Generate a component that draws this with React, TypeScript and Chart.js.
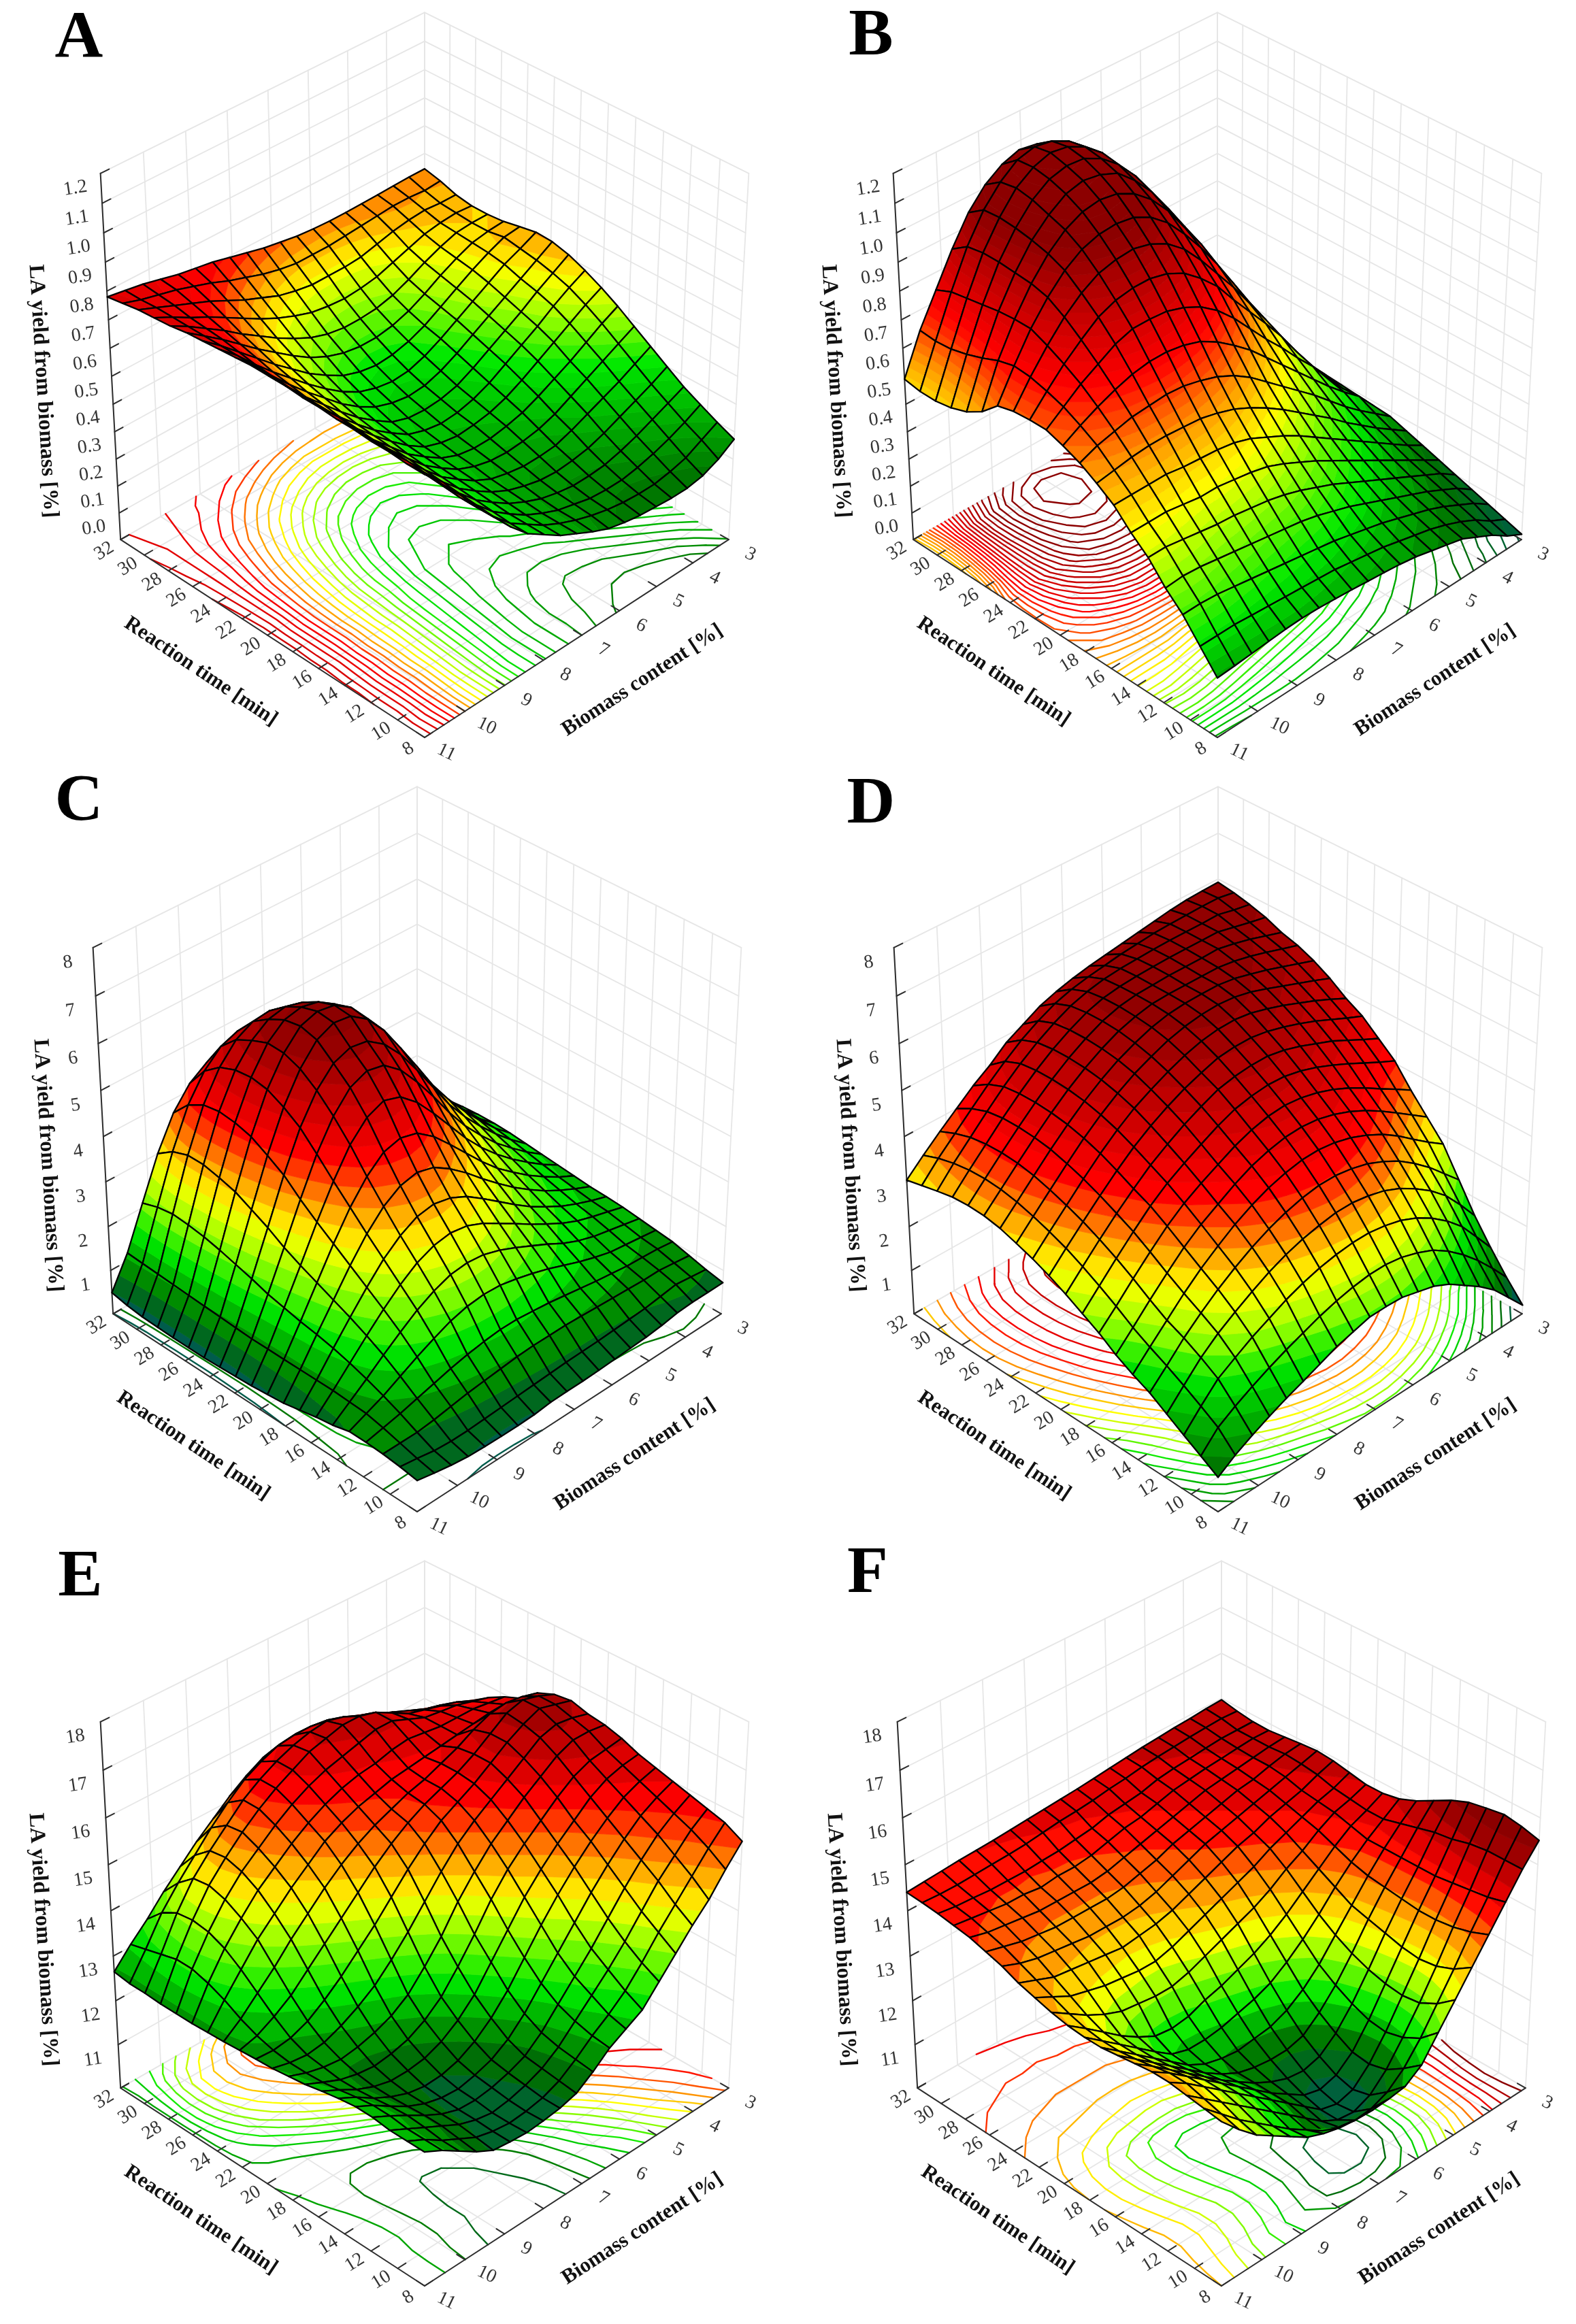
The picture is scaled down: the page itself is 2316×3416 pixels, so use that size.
import { useEffect, useRef } from 'react';
import { Chart, registerables } from 'chart.js';

Chart.register(...registerables);

// tick labels
const timeTicks = [8, 10, 12, 14, 16, 18, 20, 22, 24, 26, 28, 30, 32];
const biomassTicks = [11, 10, 9, 8, 7, 6, 5, 4, 3];
const yieldTicksLow = ['0.0', '0.1', '0.2', '0.3', '0.4', '0.5', '0.6', '0.7', '0.8', '0.9', '1.0', '1.1', '1.2'];
const yieldTicksMid = ['1', '2', '3', '4', '5', '6', '7', '8'];
const yieldTicksHigh = ['11', '12', '13', '14', '15', '16', '17', '18'];

// surface heights: rows run from 8 to 32 min, columns from 11 to 3 % biomass
const surfaceA = [
  [.82, .76, .68, .60, .53, .46, .40, .36, .32, .29, .26, .235, .22, .21, .205, .20, .20, .21, .235, .273],
  [.82, .755, .68, .60, .53, .46, .40, .36, .32, .29, .265, .245, .23, .22, .215, .215, .225, .24, .27, .30],
  [.825, .76, .68, .605, .53, .465, .405, .36, .32, .29, .265, .25, .235, .23, .23, .24, .255, .275, .30, .33],
  [.825, .76, .685, .61, .535, .47, .41, .365, .325, .295, .27, .255, .245, .245, .25, .265, .285, .31, .335, .361],
  [.83, .76, .685, .61, .54, .475, .415, .37, .33, .30, .28, .265, .26, .265, .275, .295, .32, .345, .37, .40],
  [.83, .765, .69, .615, .545, .48, .42, .375, .335, .305, .29, .28, .28, .285, .305, .33, .355, .38, .41, .44],
  [.835, .77, .69, .615, .55, .485, .425, .38, .34, .315, .30, .295, .30, .31, .33, .36, .39, .42, .45, .48],
  [.835, .77, .695, .62, .55, .49, .43, .385, .345, .32, .31, .31, .32, .335, .36, .39, .42, .455, .49, .52],
  [.84, .77, .695, .62, .555, .495, .44, .39, .35, .33, .32, .325, .335, .355, .385, .42, .455, .49, .525, .555],
  [.84, .77, .695, .625, .56, .50, .445, .40, .36, .34, .33, .335, .35, .375, .41, .445, .48, .52, .555, .585],
  [.84, .775, .70, .63, .57, .51, .455, .41, .37, .35, .345, .35, .365, .395, .43, .465, .50, .54, .575, .61],
  [.835, .775, .705, .64, .58, .525, .47, .425, .39, .37, .36, .365, .385, .415, .45, .485, .52, .555, .59, .625],
  [.83, .775, .71, .65, .595, .54, .49, .445, .41, .39, .38, .385, .405, .435, .47, .505, .54, .575, .60, .628],
  [.825, .775, .72, .665, .61, .56, .51, .47, .435, .415, .405, .41, .425, .45, .485, .52, .555, .585, .61, .617],
  [.82, .775, .73, .68, .63, .585, .54, .50, .47, .45, .44, .44, .45, .47, .50, .535, .565, .59, .60, .605],
  [.81, .775, .735, .695, .65, .61, .57, .535, .505, .485, .475, .475, .48, .495, .52, .55, .575, .595, .60, .60],
  [.805, .775, .74, .71, .675, .64, .605, .575, .55, .53, .52, .515, .52, .53, .55, .57, .59, .60, .605, .60],
  [.80, .775, .75, .725, .70, .67, .64, .615, .59, .575, .565, .565, .565, .57, .585, .60, .61, .615, .61, .61],
  [.79, .77, .755, .74, .72, .70, .675, .655, .635, .62, .61, .61, .61, .615, .62, .625, .63, .63, .625, .63],
  [.78, .77, .76, .745, .73, .72, .71, .695, .68, .665, .655, .645, .64, .637, .637, .638, .64, .642, .644, .644],
];

const surfaceB = [
  [.116, .12, .125, .13, .135, .137, .135, .13, .125, .118, .112, .105, .095, .08, .065, .05, .02, -.01, -.05, -.08],
  [.19, .19, .19, .185, .18, .175, .17, .165, .16, .15, .14, .13, .115, .10, .085, .065, .04, .01, -.03, -.06],
  [.264, .265, .26, .25, .24, .23, .22, .21, .20, .19, .175, .16, .145, .125, .105, .085, .06, .03, 0, -.04],
  [.32, .325, .32, .31, .30, .29, .28, .27, .26, .245, .225, .205, .18, .155, .13, .105, .08, .05, .02, -.02],
  [.39, .39, .38, .37, .36, .355, .345, .335, .32, .30, .275, .25, .22, .19, .16, .13, .10, .07, .04, 0],
  [.44, .44, .44, .43, .42, .42, .41, .40, .385, .36, .33, .30, .265, .23, .195, .16, .125, .09, .055, .02],
  [.50, .50, .50, .50, .49, .485, .48, .47, .45, .42, .39, .355, .315, .275, .235, .195, .155, .115, .075, .04],
  [.54, .55, .56, .565, .565, .56, .555, .54, .52, .49, .455, .415, .37, .325, .28, .23, .185, .14, .10, .06],
  [.575, .60, .615, .63, .635, .64, .635, .62, .60, .57, .53, .48, .43, .38, .33, .275, .22, .17, .125, .08],
  [.60, .635, .665, .69, .71, .72, .72, .71, .69, .655, .61, .56, .50, .44, .38, .32, .26, .205, .155, .085],
  [.62, .665, .71, .745, .78, .80, .80, .795, .775, .745, .70, .64, .57, .50, .435, .365, .30, .22, .15, .09],
  [.62, .685, .745, .795, .84, .865, .875, .875, .86, .83, .78, .72, .64, .565, .49, .41, .32, .235, .16, .095],
  [.615, .70, .775, .84, .89, .925, .94, .945, .93, .90, .85, .78, .70, .62, .53, .44, .34, .25, .17, .10],
  [.60, .705, .80, .875, .935, .975, .995, 1.0, .99, .96, .91, .84, .76, .67, .57, .47, .365, .26, .18, .105],
  [.545, .69, .80, .89, .96, 1.01, 1.04, 1.05, 1.04, 1.01, .96, .89, .80, .71, .60, .495, .385, .27, .185, .11],
  [.51, .665, .795, .895, .975, 1.03, 1.07, 1.085, 1.075, 1.05, .995, .925, .835, .74, .62, .51, .40, .285, .195, .12],
  [.49, .645, .785, .90, .985, 1.05, 1.09, 1.105, 1.10, 1.07, 1.02, .95, .855, .76, .63, .52, .41, .295, .20, .13],
  [.48, .63, .775, .90, .99, 1.06, 1.10, 1.12, 1.11, 1.08, 1.03, .955, .86, .765, .64, .52, .41, .30, .21, .14],
  [.48, .625, .765, .89, .985, 1.05, 1.095, 1.11, 1.10, 1.07, 1.02, .94, .85, .755, .63, .51, .40, .30, .215, .145],
  [.49, .63, .74, .85, .945, 1.01, 1.05, 1.07, 1.06, 1.03, .985, .91, .82, .725, .61, .50, .39, .30, .22, .15],
];

const surfaceC = [
  [.70, .62, .55, .50, .48, .47, .47, .48, .52, .53, .53, .54, .56, .58, .60, .64, .70, .72, .72, .72],
  [.76, .70, .63, .60, .60, .62, .64, .66, .68, .70, .72, .73, .74, .76, .78, .80, .85, .90, .85, .80],
  [.80, .80, .80, .84, .90, .96, 1.0, 1.04, 1.08, 1.10, 1.10, 1.10, 1.08, 1.06, 1.04, 1.02, 1.0, 1.0, .95, .90],
  [.82, .90, .98, 1.08, 1.18, 1.28, 1.36, 1.42, 1.46, 1.46, 1.42, 1.38, 1.32, 1.26, 1.2, 1.15, 1.10, 1.08, 1.05, 1.0],
  [.82, .98, 1.14, 1.34, 1.54, 1.72, 1.88, 1.98, 2.02, 2.0, 1.92, 1.82, 1.70, 1.56, 1.42, 1.3, 1.2, 1.15, 1.1, 1.05],
  [.72, 1.0, 1.28, 1.58, 1.86, 2.12, 2.32, 2.46, 2.5, 2.46, 2.34, 2.18, 2.0, 1.82, 1.62, 1.46, 1.34, 1.26, 1.18, 1.10],
  [.66, 1.02, 1.40, 1.78, 2.14, 2.46, 2.72, 2.88, 2.94, 2.88, 2.72, 2.5, 2.28, 2.05, 1.84, 1.64, 1.48, 1.36, 1.26, 1.15],
  [.58, 1.02, 1.5, 1.96, 2.4, 2.8, 3.1, 3.3, 3.36, 3.28, 3.1, 2.84, 2.56, 2.28, 2.02, 1.8, 1.6, 1.44, 1.3, 1.18],
  [.50, 1.02, 1.58, 2.12, 2.66, 3.14, 3.52, 3.76, 3.84, 3.74, 3.5, 3.2, 2.86, 2.54, 2.24, 1.98, 1.74, 1.54, 1.36, 1.2],
  [.46, 1.02, 1.64, 2.28, 2.92, 3.5, 3.96, 4.28, 4.38, 4.28, 4.0, 3.62, 3.22, 2.82, 2.46, 2.16, 1.88, 1.64, 1.42, 1.24],
  [.42, 1.02, 1.72, 2.44, 3.18, 3.86, 4.44, 4.82, 4.98, 4.86, 4.54, 4.1, 3.62, 3.14, 2.72, 2.36, 2.04, 1.76, 1.5, 1.28],
  [.40, 1.02, 1.8, 2.62, 3.46, 4.24, 4.85, 5.26, 5.42, 5.34, 5.04, 4.58, 4.06, 3.5, 3.0, 2.58, 2.2, 1.88, 1.58, 1.32],
  [.38, 1.04, 1.92, 2.84, 3.78, 4.6, 5.2, 5.58, 5.72, 5.66, 5.4, 4.98, 4.44, 3.86, 3.28, 2.8, 2.38, 2.0, 1.66, 1.36],
  [.36, 1.06, 2.02, 3.02, 4.0, 4.84, 5.46, 5.88, 6.05, 6.0, 5.74, 5.3, 4.72, 4.12, 3.5, 2.98, 2.52, 2.1, 1.72, 1.40],
  [.36, 1.08, 2.12, 3.2, 4.2, 5.02, 5.6, 5.98, 6.1, 6.04, 5.8, 5.36, 4.8, 4.2, 3.58, 3.04, 2.56, 2.14, 1.74, 1.42],
  [.36, 1.1, 2.2, 3.3, 4.3, 5.08, 5.62, 5.92, 6.0, 5.92, 5.68, 5.28, 4.74, 4.15, 3.55, 3.02, 2.55, 2.12, 1.74, 1.42],
  [.37, 1.12, 2.25, 3.38, 4.34, 5.04, 5.48, 5.74, 5.82, 5.72, 5.48, 5.1, 4.6, 4.02, 3.45, 2.94, 2.48, 2.08, 1.7, 1.40],
  [.38, 1.14, 2.28, 3.38, 4.28, 4.9, 5.3, 5.5, 5.54, 5.44, 5.2, 4.82, 4.32, 3.8, 3.28, 2.82, 2.38, 2.0, 1.64, 1.36],
  [.42, 1.16, 2.22, 3.25, 4.08, 4.62, 4.96, 5.1, 5.12, 5.0, 4.76, 4.4, 3.96, 3.5, 3.05, 2.62, 2.24, 1.88, 1.54, 1.30],
  [.49, 1.18, 2.1, 3.0, 3.7, 4.15, 4.4, 4.52, 4.52, 4.42, 4.2, 3.9, 3.52, 3.14, 2.75, 2.38, 2.04, 1.72, 1.44, 1.24],
];

const surfaceD = [
  [.77, 1.02, 1.22, 1.4, 1.56, 1.7, 1.85, 2.0, 2.1, 2.2, 2.2, 2.18, 2.08, 1.98, 1.8, 1.55, 1.3, 1.0, .6, .2],
  [1.0, 1.39, 1.62, 1.82, 2.0, 2.16, 2.3, 2.44, 2.55, 2.63, 2.68, 2.68, 2.62, 2.5, 2.34, 2.1, 1.8, 1.45, 1.05, .62],
  [1.22, 1.62, 1.99, 2.22, 2.44, 2.62, 2.8, 2.94, 3.05, 3.12, 3.16, 3.16, 3.1, 3.0, 2.84, 2.62, 2.34, 2.0, 1.55, 1.09],
  [1.45, 1.84, 2.22, 2.52, 2.76, 2.98, 3.18, 3.34, 3.46, 3.54, 3.6, 3.6, 3.54, 3.44, 3.28, 3.06, 2.8, 2.48, 2.06, 1.6],
  [1.68, 2.04, 2.42, 2.74, 3.03, 3.28, 3.5, 3.68, 3.82, 3.92, 3.98, 3.98, 3.92, 3.82, 3.66, 3.46, 3.2, 2.9, 2.55, 2.2],
  [1.85, 2.22, 2.58, 2.94, 3.26, 3.53, 3.78, 3.98, 4.14, 4.25, 4.32, 4.33, 4.28, 4.18, 4.03, 3.84, 3.6, 3.32, 3.05, 2.8],
  [2.05, 2.42, 2.8, 3.16, 3.5, 3.78, 4.0, 4.22, 4.4, 4.52, 4.6, 4.62, 4.58, 4.48, 4.34, 4.16, 3.94, 3.7, 3.45, 3.2],
  [2.3, 2.66, 3.04, 3.4, 3.74, 4.02, 4.24, 4.43, 4.62, 4.76, 4.85, 4.88, 4.84, 4.75, 4.62, 4.45, 4.25, 4.03, 3.82, 3.6],
  [2.5, 2.88, 3.26, 3.62, 3.96, 4.24, 4.46, 4.66, 4.85, 5.0, 5.08, 5.12, 5.1, 5.02, 4.9, 4.75, 4.58, 4.4, 4.22, 4.05],
  [2.7, 3.08, 3.45, 3.8, 4.12, 4.42, 4.66, 4.88, 5.06, 5.22, 5.3, 5.34, 5.34, 5.27, 5.16, 5.02, 4.88, 4.7, 4.52, 4.35],
  [2.88, 3.26, 3.62, 3.97, 4.3, 4.6, 4.85, 5.06, 5.24, 5.38, 5.5, 5.54, 5.54, 5.48, 5.38, 5.26, 5.12, 4.96, 4.8, 4.65],
  [3.03, 3.4, 3.76, 4.12, 4.46, 4.76, 5.02, 5.22, 5.4, 5.55, 5.66, 5.72, 5.73, 5.68, 5.58, 5.46, 5.32, 5.18, 5.02, 4.85],
  [3.15, 3.52, 3.88, 4.24, 4.58, 4.88, 5.14, 5.36, 5.53, 5.68, 5.78, 5.84, 5.86, 5.83, 5.75, 5.63, 5.5, 5.37, 5.24, 5.1],
  [3.26, 3.62, 3.98, 4.34, 4.67, 4.97, 5.23, 5.45, 5.62, 5.76, 5.85, 5.89, 5.9, 5.9, 5.85, 5.76, 5.66, 5.54, 5.42, 5.3],
  [3.32, 3.68, 4.04, 4.39, 4.72, 5.02, 5.28, 5.5, 5.68, 5.8, 5.88, 5.9, 5.9, 5.9, 5.9, 5.85, 5.77, 5.67, 5.56, 5.45],
  [3.33, 3.7, 4.06, 4.41, 4.74, 5.04, 5.3, 5.52, 5.7, 5.82, 5.88, 5.9, 5.92, 5.92, 5.92, 5.93, 5.86, 5.77, 5.66, 5.55],
  [3.3, 3.68, 4.04, 4.4, 4.73, 5.03, 5.29, 5.51, 5.69, 5.81, 5.87, 5.9, 5.92, 5.93, 5.93, 5.93, 5.93, 5.85, 5.77, 5.7],
  [3.22, 3.62, 3.98, 4.34, 4.68, 4.98, 5.24, 5.46, 5.64, 5.76, 5.84, 5.88, 5.9, 5.92, 5.93, 5.93, 5.93, 5.94, 5.86, 5.8],
  [3.13, 3.52, 3.86, 4.2, 4.53, 4.83, 5.1, 5.32, 5.5, 5.62, 5.7, 5.76, 5.82, 5.86, 5.9, 5.92, 5.93, 5.94, 5.94, 5.88],
  [3.04, 3.38, 3.7, 4.0, 4.3, 4.55, 4.85, 5.05, 5.25, 5.38, 5.48, 5.56, 5.62, 5.68, 5.74, 5.8, 5.86, 5.9, 5.92, 5.93],
];

const surfaceE = [
  [12.95, 12.75, 12.5, 12.25, 12.05, 12.0, 11.97, 12.0, 12.05, 12.15, 12.4, 12.7, 12.9, 13.1, 13.5, 13.9, 14.3, 14.65, 15.1, 15.5],
  [12.95, 12.75, 12.5, 12.3, 12.1, 12.0, 11.95, 11.98, 12.05, 12.2, 12.45, 12.75, 13.0, 13.3, 13.7, 14.15, 14.55, 14.95, 15.35, 15.7],
  [12.95, 12.75, 12.55, 12.35, 12.15, 12.02, 11.95, 12.0, 12.1, 12.25, 12.5, 12.85, 13.2, 13.55, 13.95, 14.4, 14.85, 15.2, 15.55, 15.8],
  [13.0, 12.8, 12.58, 12.35, 12.15, 12.02, 12.0, 12.05, 12.15, 12.3, 12.6, 13.0, 13.4, 13.8, 14.25, 14.7, 15.1, 15.45, 15.7, 15.9],
  [13.0, 12.8, 12.55, 12.32, 12.15, 12.05, 12.02, 12.1, 12.22, 12.45, 12.8, 13.25, 13.7, 14.15, 14.6, 15.0, 15.35, 15.65, 15.85, 16.0],
  [12.95, 12.75, 12.5, 12.3, 12.15, 12.08, 12.1, 12.2, 12.4, 12.7, 13.1, 13.6, 14.1, 14.55, 14.95, 15.3, 15.6, 15.85, 16.0, 16.1],
  [12.88, 12.68, 12.46, 12.3, 12.2, 12.2, 12.25, 12.4, 12.65, 13.0, 13.5, 14.0, 14.5, 14.9, 15.25, 15.55, 15.85, 16.05, 16.15, 16.2],
  [12.8, 12.62, 12.45, 12.35, 12.3, 12.35, 12.45, 12.65, 12.95, 13.4, 13.9, 14.45, 14.9, 15.25, 15.55, 15.85, 16.1, 16.25, 16.3, 16.35],
  [12.75, 12.6, 12.5, 12.45, 12.5, 12.6, 12.75, 13.0, 13.4, 13.85, 14.4, 14.85, 15.25, 15.55, 15.85, 16.1, 16.35, 16.5, 16.5, 16.45],
  [12.7, 12.6, 12.55, 12.6, 12.75, 12.95, 13.2, 13.55, 13.95, 14.4, 14.85, 15.25, 15.55, 15.8, 16.05, 16.3, 16.55, 16.65, 16.6, 16.5],
  [12.68, 12.65, 12.7, 12.85, 13.1, 13.4, 13.75, 14.1, 14.5, 14.9, 15.25, 15.55, 15.75, 15.95, 16.2, 16.45, 16.65, 16.8, 16.7, 16.6],
  [12.65, 12.75, 12.95, 13.2, 13.55, 13.9, 14.25, 14.6, 14.95, 15.25, 15.5, 15.7, 15.85, 16.0, 16.2, 16.45, 16.7, 16.8, 16.7, 16.55],
  [12.62, 12.9, 13.25, 13.6, 14.0, 14.35, 14.7, 15.0, 15.25, 15.45, 15.6, 15.75, 15.85, 16.0, 16.15, 16.35, 16.5, 16.55, 16.5, 16.4],
  [12.6, 13.1, 13.55, 14.0, 14.35, 14.7, 15.0, 15.3, 15.5, 15.65, 15.75, 15.85, 15.9, 15.95, 16.0, 16.05, 16.1, 16.15, 16.15, 16.1],
  [12.58, 13.25, 13.8, 14.25, 14.65, 14.95, 15.25, 15.5, 15.7, 15.85, 15.95, 16.0, 16.1, 16.15, 16.1, 16.05, 16.05, 16.05, 16.0, 15.95],
  [12.58, 13.35, 13.95, 14.45, 14.85, 15.15, 15.45, 15.7, 15.9, 16.05, 16.15, 16.25, 16.35, 16.35, 16.2, 16.05, 16.0, 15.95, 15.85, 15.75],
  [12.58, 13.35, 14.0, 14.55, 14.95, 15.3, 15.6, 15.85, 16.05, 16.25, 16.35, 16.45, 16.45, 16.35, 16.15, 15.95, 15.85, 15.75, 15.65, 15.5],
  [12.6, 13.25, 13.95, 14.5, 14.9, 15.25, 15.6, 15.85, 16.05, 16.2, 16.3, 16.35, 16.25, 16.1, 15.95, 15.8, 15.65, 15.5, 15.4, 15.2],
  [12.6, 13.15, 13.75, 14.2, 14.6, 15.0, 15.35, 15.65, 15.85, 16.0, 16.05, 16.05, 16.0, 15.85, 15.7, 15.55, 15.4, 15.25, 15.1, 15.0],
  [12.65, 13.05, 13.4, 13.8, 14.15, 14.5, 14.8, 15.1, 15.35, 15.55, 15.65, 15.7, 15.65, 15.55, 15.4, 15.25, 15.1, 15.0, 14.9, 14.75],
];

const surfaceF = [
  [13.6, 13.2, 12.85, 12.6, 12.35, 12.1, 11.95, 11.85, 11.8, 11.78, 11.8, 11.85, 12.1, 12.6, 13.1, 13.6, 14.1, 14.6, 15.1, 15.52],
  [13.65, 13.3, 12.95, 12.65, 12.35, 12.05, 11.8, 11.55, 11.4, 11.32, 11.35, 11.5, 11.8, 12.25, 12.8, 13.35, 13.95, 14.5, 15.1, 15.62],
  [13.7, 13.4, 13.1, 12.8, 12.5, 12.2, 11.9, 11.6, 11.3, 11.1, 11.05, 11.2, 11.55, 12.05, 12.6, 13.2, 13.85, 14.45, 15.1, 15.68],
  [13.75, 13.5, 13.2, 12.9, 12.6, 12.3, 12.0, 11.7, 11.4, 11.1, 11.0, 11.1, 11.45, 11.95, 12.55, 13.15, 13.8, 14.4, 15.05, 15.62],
  [13.75, 13.5, 13.2, 12.9, 12.6, 12.3, 12.0, 11.7, 11.45, 11.2, 11.1, 11.2, 11.5, 12.0, 12.6, 13.2, 13.8, 14.35, 14.95, 15.55],
  [13.7, 13.42, 13.12, 12.82, 12.52, 12.22, 11.95, 11.7, 11.5, 11.35, 11.3, 11.4, 11.7, 12.15, 12.7, 13.3, 13.85, 14.35, 14.9, 15.4],
  [13.65, 13.35, 13.05, 12.75, 12.45, 12.15, 11.9, 11.7, 11.6, 11.55, 11.55, 11.65, 11.95, 12.35, 12.85, 13.4, 13.9, 14.35, 14.8, 15.2],
  [13.6, 13.3, 13.0, 12.7, 12.4, 12.1, 11.9, 11.8, 11.75, 11.8, 11.85, 12.0, 12.25, 12.6, 13.05, 13.5, 13.95, 14.35, 14.7, 15.0],
  [13.6, 13.3, 13.0, 12.7, 12.4, 12.12, 12.0, 12.0, 12.05, 12.15, 12.25, 12.4, 12.65, 12.95, 13.3, 13.7, 14.05, 14.35, 14.6, 14.85],
  [13.63, 13.35, 13.05, 12.75, 12.5, 12.3, 12.25, 12.3, 12.45, 12.55, 12.7, 12.85, 13.05, 13.3, 13.6, 13.9, 14.2, 14.45, 14.6, 14.78],
  [13.7, 13.45, 13.2, 13.0, 12.85, 12.8, 12.75, 12.75, 12.85, 13.0, 13.15, 13.3, 13.45, 13.65, 13.9, 14.1, 14.35, 14.55, 14.65, 14.78],
  [13.8, 13.6, 13.4, 13.3, 13.2, 13.15, 13.1, 13.1, 13.2, 13.35, 13.5, 13.65, 13.8, 13.95, 14.15, 14.3, 14.45, 14.6, 14.7, 14.85],
  [13.9, 13.75, 13.6, 13.55, 13.5, 13.45, 13.4, 13.45, 13.5, 13.6, 13.75, 13.9, 14.05, 14.2, 14.3, 14.45, 14.55, 14.65, 14.8, 14.92],
  [14.05, 13.9, 13.8, 13.75, 13.7, 13.65, 13.65, 13.65, 13.7, 13.8, 13.95, 14.1, 14.25, 14.35, 14.45, 14.55, 14.65, 14.75, 14.85, 14.95],
  [14.15, 14.05, 13.95, 13.9, 13.85, 13.85, 13.85, 13.85, 13.9, 14.0, 14.1, 14.25, 14.35, 14.45, 14.55, 14.65, 14.7, 14.8, 14.88, 14.92],
  [14.25, 14.15, 14.1, 14.05, 14.0, 14.0, 14.0, 14.0, 14.05, 14.15, 14.25, 14.35, 14.45, 14.55, 14.65, 14.7, 14.75, 14.8, 14.85, 14.88],
  [14.3, 14.25, 14.2, 14.15, 14.15, 14.1, 14.15, 14.15, 14.2, 14.3, 14.4, 14.45, 14.55, 14.65, 14.7, 14.75, 14.78, 14.82, 14.85, 14.84],
  [14.35, 14.3, 14.28, 14.25, 14.25, 14.25, 14.28, 14.3, 14.35, 14.4, 14.5, 14.55, 14.6, 14.7, 14.75, 14.78, 14.82, 14.85, 14.85, 14.85],
  [14.38, 14.36, 14.36, 14.38, 14.4, 14.42, 14.45, 14.5, 14.55, 14.58, 14.62, 14.68, 14.72, 14.78, 14.82, 14.85, 14.88, 14.9, 14.92, 14.9],
  [14.4, 14.43, 14.46, 14.49, 14.51, 14.53, 14.56, 14.59, 14.62, 14.65, 14.68, 14.72, 14.76, 14.8, 14.84, 14.87, 14.9, 14.92, 14.95, 14.97],
];

// heights where the colour ramp hits teal, dark green, green, lime, yellow, orange, red, dark red
const rampColors = ['#005c4c', '#007000', '#00e800', '#9cff00', '#ffff00', '#ff9400', '#ff0000', '#8c0000'];
const rampA = [.16, .20, .41, .50, .57, .635, .70, 1.0];
const rampB = [-.1, .05, .2, .34, .43, .56, .70, .98];
const rampC = [.5, .75, 1.6, 2.3, 2.9, 3.5, 4.2, 5.9];
const rampD = [.4, .8, 1.95, 2.45, 3.0, 3.5, 4.1, 5.95];
const rampE = [11.7, 12.3, 13.2, 14.0, 14.5, 15.1, 15.8, 17.0];
const rampF = [10.9, 11.6, 12.2, 12.8, 13.2, 13.8, 14.4, 15.4];

const PANEL_W = 1158;
const PANEL_H = 1138;
const SCALE_X = 1.354;
const SCALE_Y = 1.375;
const MESH = 19;
const SERIF = '"Liberation Serif", "Times New Roman", serif';

interface PanelDef {
  letter: string;
  surface: number[][];
  ramp: number[];
  zMin: number;
  zMax: number;
  zStep: number;
  zTicks: string[];
  firstTick: number;
  levelStart: number;
  levelStep: number;
  originX: number;
  letterX: number;
  letterY: number;
  titleX: number;
}

const panels: PanelDef[] = [
  { letter: 'A', surface: surfaceA, ramp: rampA, zMin: -0.1, zMax: 1.2, zStep: 0.1, zTicks: yieldTicksLow, firstTick: 0, levelStart: 0.15, levelStep: 0.025, originX: 624, letterX: 116, letterY: 58, titleX: -561 },
  { letter: 'B', surface: surfaceB, ramp: rampB, zMin: -0.1, zMax: 1.2, zStep: 0.1, zTicks: yieldTicksLow, firstTick: 0, levelStart: -0.1, levelStep: 0.025, originX: 631, letterX: 122, letterY: 55, titleX: -561 },
  { letter: 'C', surface: surfaceC, ramp: rampC, zMin: 0, zMax: 8, zStep: 1, zTicks: yieldTicksMid, firstTick: 1, levelStart: 0.5, levelStep: 0.3, originX: 613, letterX: 116, letterY: 42, titleX: -543 },
  { letter: 'D', surface: surfaceD, ramp: rampD, zMin: 0, zMax: 8, zStep: 1, zTicks: yieldTicksMid, firstTick: 1, levelStart: 0.5, levelStep: 0.25, originX: 632, letterX: 122, letterY: 46, titleX: -541 },
  { letter: 'E', surface: surfaceE, ramp: rampE, zMin: 10, zMax: 18, zStep: 1, zTicks: yieldTicksHigh, firstTick: 11, levelStart: 11.5, levelStep: 0.3, originX: 624, letterX: 118, letterY: 44, titleX: -561 },
  { letter: 'F', surface: surfaceF, ramp: rampF, zMin: 10, zMax: 18, zStep: 1, zTicks: yieldTicksHigh, firstTick: 11, levelStart: 10.9, levelStep: 0.3, originX: 637, letterX: 117, letterY: 39, titleX: -559 },
];

const ORIGIN_Y = 1084;

// camera used for all six boxes; u runs along time, v along biomass, h up the yield axis
function project(def: PanelDef, u: number, v: number, h: number) {
  const w = 1 + 0.0694 * (u + v) - 0.0663 * h;
  return {
    x: def.originX + (647 * (v - u)) / w / SCALE_X,
    y: ORIGIN_Y + (-427.8 * (u + v) - 715.8 * h) / w / SCALE_Y,
  };
}

function hexToRgb(hex: string) {
  return [parseInt(hex.slice(1, 3), 16), parseInt(hex.slice(3, 5), 16), parseInt(hex.slice(5, 7), 16)];
}

function rampColor(ramp: number[], z: number) {
  if (z <= ramp[0]) return rampColors[0];
  for (let k = 1; k < ramp.length; k++) {
    if (z <= ramp[k]) {
      const t = (z - ramp[k - 1]) / (ramp[k] - ramp[k - 1]);
      const a = hexToRgb(rampColors[k - 1]);
      const b = hexToRgb(rampColors[k]);
      return `rgb(${a.map((c, n) => Math.round(c + (b[n] - c) * t)).join(',')})`;
    }
  }
  return rampColors[rampColors.length - 1];
}

interface Vertex { u: number; v: number; z: number }

function clipBelow(poly: Vertex[], limit: number, keepAbove: boolean) {
  const out: Vertex[] = [];
  for (let n = 0; n < poly.length; n++) {
    const a = poly[n];
    const b = poly[(n + 1) % poly.length];
    const aIn = keepAbove ? a.z >= limit : a.z <= limit;
    const bIn = keepAbove ? b.z >= limit : b.z <= limit;
    if (aIn) out.push(a);
    if (aIn !== bIn) {
      const t = (limit - a.z) / (b.z - a.z);
      out.push({ u: a.u + (b.u - a.u) * t, v: a.v + (b.v - a.v) * t, z: limit });
    }
  }
  return out;
}

function buildDatasets(def: PanelDef) {
  const list: any[] = [];
  const hOf = (z: number) => (z - def.zMin) / (def.zMax - def.zMin);
  const addLine = (data: { x: number; y: number }[], color: string, width: number) => {
    list.push({ data, showLine: true, borderColor: color, borderWidth: width, pointRadius: 0, fill: false, tension: 0, borderCapStyle: 'round', borderJoinStyle: 'round' });
  };
  const wall = '#e6e6e6';
  const axis = '#2e2e2e';

  // walls and floor
  const uStops = timeTicks.map((t) => (t - 8) / 24);
  const vStops = biomassTicks.map((b) => (11 - b) / 8);
  const zCount = Math.round((def.zMax - def.zMin) / def.zStep);
  for (const v of vStops) {
    addLine([project(def, 1, v, 0), project(def, 1, v, 1)], wall, 1.8);
    addLine([project(def, 0, v, 0), project(def, 1, v, 0)], wall, 1.8);
  }
  for (const u of uStops) {
    addLine([project(def, u, 1, 0), project(def, u, 1, 1)], wall, 1.8);
    addLine([project(def, u, 0, 0), project(def, u, 1, 0)], wall, 1.8);
  }
  for (let k = 0; k <= zCount; k++) {
    const h = k / zCount;
    addLine([project(def, 1, 0, h), project(def, 1, 1, h), project(def, 0, 1, h)], wall, 1.8);
  }

  const s = def.surface;
  const zs = s.flat();
  const zLow = Math.min(...zs);
  const zHigh = Math.max(...zs);
  for (let level = def.levelStart; level < zHigh; level += def.levelStep) {
    if (level < zLow) continue;
    const pts: { x: number; y: number }[] = [];
    for (let i = 0; i < MESH; i++) {
      for (let j = 0; j < MESH; j++) {
        const corners = [
          { u: i / MESH, v: j / MESH, z: s[i][j] },
          { u: (i + 1) / MESH, v: j / MESH, z: s[i + 1][j] },
          { u: (i + 1) / MESH, v: (j + 1) / MESH, z: s[i + 1][j + 1] },
          { u: i / MESH, v: (j + 1) / MESH, z: s[i][j + 1] },
        ];
        const hits: { x: number; y: number }[] = [];
        for (let n = 0; n < 4; n++) {
          const a = corners[n];
          const b = corners[(n + 1) % 4];
          if (a.z >= level !== b.z >= level) {
            const t = (level - a.z) / (b.z - a.z);
            hits.push(project(def, a.u + (b.u - a.u) * t, a.v + (b.v - a.v) * t, 0));
          }
        }
        for (let n = 0; n + 1 < hits.length; n += 2) {
          pts.push(hits[n], hits[n + 1], { x: NaN, y: NaN });
        }
      }
    }
    addLine(pts, rampColor(def.ramp, level), 2.4);
  }

  // box axes and their ticks
  addLine([project(def, 1, 0, 1), project(def, 1, 0, 0), project(def, 0, 0, 0), project(def, 0, 1, 0)], axis, 2);
  for (const u of uStops) {
    addLine([project(def, u, 0, 0), project(def, u, 0.025, 0)], axis, 2);
  }
  for (const v of vStops) {
    addLine([project(def, 0, v, 0), project(def, 0.025, v, 0)], axis, 2);
  }
  for (let k = 0; k <= zCount; k++) {
    addLine([project(def, 1, 0, k / zCount), project(def, 1, 0.025, k / zCount)], axis, 2);
  }

  // surface quads, painted from the back corner to the front corner
  const levels: number[] = [-1e6];
  for (let level = def.levelStart; level < zHigh + def.levelStep; level += def.levelStep) levels.push(level);
  levels.push(1e6);
  for (let i = MESH - 1; i >= 0; i--) {
    for (let j = MESH - 1; j >= 0; j--) {
      const quad: Vertex[] = [
        { u: i / MESH, v: j / MESH, z: s[i][j] },
        { u: (i + 1) / MESH, v: j / MESH, z: s[i + 1][j] },
        { u: (i + 1) / MESH, v: (j + 1) / MESH, z: s[i + 1][j + 1] },
        { u: i / MESH, v: (j + 1) / MESH, z: s[i][j + 1] },
      ];
      const lo = Math.min(...quad.map((c) => c.z));
      const hi = Math.max(...quad.map((c) => c.z));
      for (let k = 0; k + 1 < levels.length; k++) {
        if (levels[k + 1] < lo || levels[k] > hi) continue;
        const piece = clipBelow(clipBelow(quad, levels[k], true), levels[k + 1], false);
        if (piece.length < 3) continue;
        const mid = k === 0 ? levels[1] - def.levelStep / 2 : k === levels.length - 2 ? levels[k] + def.levelStep / 2 : (levels[k] + levels[k + 1]) / 2;
        const color = rampColor(def.ramp, mid);
        const data = piece.map((c) => project(def, c.u, c.v, hOf(c.z)));
        data.push(data[0]);
        list.push({ data, showLine: true, fill: 'shape', backgroundColor: color, borderColor: color, borderWidth: 0.8, pointRadius: 0, tension: 0 });
      }
      const outline = quad.map((c) => project(def, c.u, c.v, hOf(c.z)));
      outline.push(outline[0]);
      addLine(outline, '#000000', 2.3);
    }
  }
  // dataset 0 is painted last
  return list.reverse();
}

function drawText(ctx: CanvasRenderingContext2D, text: string, x: number, y: number, angle: number) {
  ctx.save();
  ctx.translate(x, y);
  ctx.rotate(angle);
  ctx.fillText(text, 0, 0);
  ctx.restore();
}

const labelPlugin = (def: PanelDef) => ({
  id: 'boxLabels',
  afterDatasetsDraw(chart: Chart) {
    const ctx = chart.ctx;
    ctx.save();
    ctx.textAlign = 'center';
    ctx.textBaseline = 'middle';
    ctx.fillStyle = '#333333';
    ctx.font = `28px ${SERIF}`;
    timeTicks.forEach((t) => {
      const p = project(def, (t - 8) / 24, 0, 0);
      drawText(ctx, String(t), p.x - 24, p.y + 17, -0.55);
    });
    biomassTicks.forEach((b) => {
      const p = project(def, 0, (11 - b) / 8, 0);
      drawText(ctx, String(b), p.x + 32, p.y + 22, 0.45);
    });
    def.zTicks.forEach((label, n) => {
      const z = def.firstTick + n * def.zStep;
      const p = project(def, 1, 0, (z - def.zMin) / (def.zMax - def.zMin));
      drawText(ctx, label, p.x - 37, p.y + 22, -0.15);
    });
    ctx.fillStyle = '#111111';
    ctx.font = `bold 31px ${SERIF}`;
    drawText(ctx, 'Reaction time [min]', def.originX - 329, ORIGIN_Y - 97, 0.59);
    drawText(ctx, 'Biomass content [%]', def.originX + 320, ORIGIN_Y - 84, -0.58);
    ctx.font = `bold 32px ${SERIF}`;
    drawText(ctx, 'LA yield from biomass [%]', def.originX + def.titleX, ORIGIN_Y - 509, 1.51);
    ctx.fillStyle = '#000000';
    ctx.font = `bold 98px ${SERIF}`;
    ctx.fillText(def.letter, def.letterX, def.letterY);
    ctx.restore();
  },
});

function Panel({ def, column, row }: { def: PanelDef; column: number; row: number }) {
  const canvasRef = useRef<HTMLCanvasElement>(null);

  useEffect(() => {
    if (!canvasRef.current) return;
    const chart = new Chart(canvasRef.current, {
      type: 'scatter',
      data: { datasets: buildDatasets(def) },
      options: {
        animation: false,
        responsive: false,
        devicePixelRatio: 1,
        events: [],
        layout: { padding: 0 },
        plugins: { legend: { display: false }, tooltip: { enabled: false } },
        scales: {
          x: { type: 'linear', display: false, min: 0, max: PANEL_W },
          y: { type: 'linear', display: false, min: 0, max: PANEL_H, reverse: true },
        },
      },
      plugins: [labelPlugin(def)],
    } as any);
    return () => chart.destroy();
  }, [def]);

  return (
    <canvas
      ref={canvasRef}
      width={PANEL_W}
      height={PANEL_H}
      style={{ position: 'absolute', left: column * PANEL_W, top: row * PANEL_H, width: PANEL_W, height: PANEL_H, filter: 'blur(0.7px)' }}
    />
  );
}

export default function App() {
  useEffect(() => {
    document.body.style.margin = '0';
    document.body.style.background = '#ffffff';
  }, []);
  return (
    <div style={{ position: 'relative', width: 2316, height: 3416, overflow: 'hidden' }}>
      {panels.map((def, n) => (
        <Panel key={def.letter} def={def} column={n % 2} row={Math.floor(n / 2)} />
      ))}
    </div>
  );
}
